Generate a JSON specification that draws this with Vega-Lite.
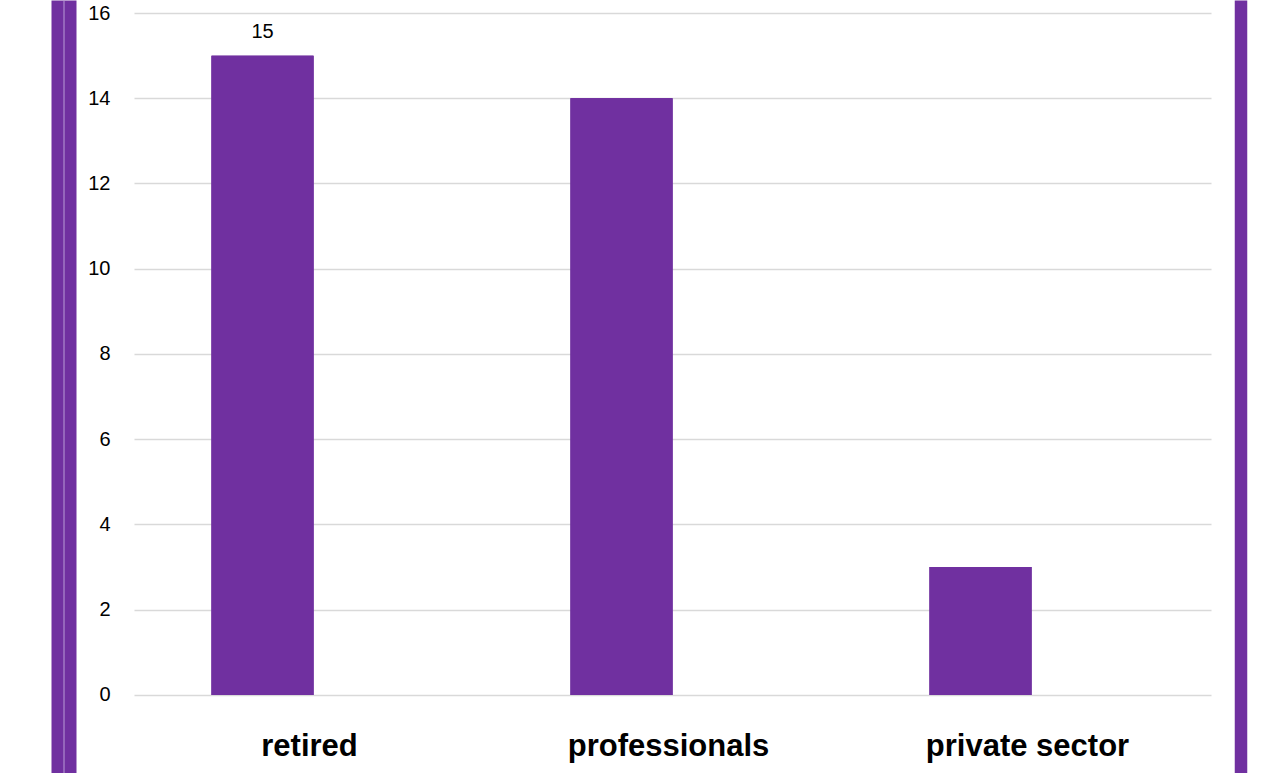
{
  "$schema": "https://vega.github.io/schema/vega-lite/v6.json",
  "width": 1077,
  "height": 773,
  "autosize": {"type": "none"},
  "padding": {"left": 134, "top": 0, "right": 62, "bottom": 0},
  "background": "white",
  "data": {
    "values": [
      {"category": "retired", "series": "count", "value": 15},
      {"category": "professionals", "series": "count", "value": 14},
      {"category": "private sector", "series": "count", "value": 3}
    ]
  },
  "encoding": {
    "x": {
      "field": "category",
      "type": "nominal",
      "sort": ["retired", "professionals", "private sector"],
      "scale": {"paddingInner": 0.432, "paddingOuter": 0.216},
      "title": null,
      "axis": {
        "orient": "bottom",
        "offset": -18,
        "domain": false,
        "ticks": false,
        "grid": false,
        "labelPadding": 0,
        "labelOffset": -4,
        "labelBaseline": "alphabetic",
        "labelAngle": 0,
        "labelFont": "Liberation Sans",
        "labelFontSize": 31,
        "labelFontWeight": "bold",
        "labelColor": "#000000",
        "labelLimit": 0
      }
    },
    "xOffset": {
      "field": "series",
      "type": "nominal",
      "scale": {"domain": ["count", "other"], "paddingInner": 0, "paddingOuter": 0}
    }
  },
  "layer": [
    {
      "mark": {"type": "bar", "color": "#7030A0"},
      "encoding": {
        "y": {
          "field": "value",
          "type": "quantitative",
          "scale": {"domain": [-1.83, 16.305], "nice": false, "zero": false},
          "title": null,
          "axis": {
            "orient": "left",
            "values": [0, 2, 4, 6, 8, 10, 12, 14, 16],
            "domain": false,
            "ticks": false,
            "grid": true,
            "gridColor": "#d9d9d9",
            "gridWidth": 1.3,
            "labelPadding": 24,
            "labelFont": "Liberation Sans",
            "labelFontSize": 20,
            "labelColor": "#000000"
          }
        },
        "y2": {"datum": 0}
      }
    },
    {
      "transform": [{"filter": "datum.category === 'retired'"}],
      "mark": {"type": "text", "baseline": "alphabetic", "dy": -18, "font": "Liberation Sans", "fontSize": 20, "color": "#000000"},
      "encoding": {
        "y": {
          "field": "value",
          "type": "quantitative",
          "title": null,
          "axis": {
            "orient": "left",
            "offset": 70.5,
            "domain": true,
            "domainColor": "#7030A0",
            "domainWidth": 25,
            "labels": false,
            "ticks": false,
            "grid": false
          }
        },
        "text": {"field": "value", "type": "quantitative"}
      }
    },
    {
      "mark": {"type": "bar", "color": "#7030A0"},
      "encoding": {
        "y": {
          "field": "value",
          "type": "quantitative",
          "title": null,
          "axis": {
            "orient": "left",
            "offset": 70.5,
            "domain": true,
            "domainColor": "#b89bd6",
            "domainWidth": 1,
            "labels": false,
            "ticks": false,
            "grid": false
          }
        },
        "y2": {"datum": 0}
      }
    },
    {
      "mark": {"type": "bar", "color": "#7030A0"},
      "encoding": {
        "y": {
          "field": "value",
          "type": "quantitative",
          "title": null,
          "axis": {
            "orient": "right",
            "offset": 29.5,
            "domain": true,
            "domainColor": "#7030A0",
            "domainWidth": 12.5,
            "labels": false,
            "ticks": false,
            "grid": false
          }
        },
        "y2": {"datum": 0}
      }
    }
  ],
  "resolve": {"axis": {"y": "independent"}},
  "config": {"view": {"stroke": null}}
}
